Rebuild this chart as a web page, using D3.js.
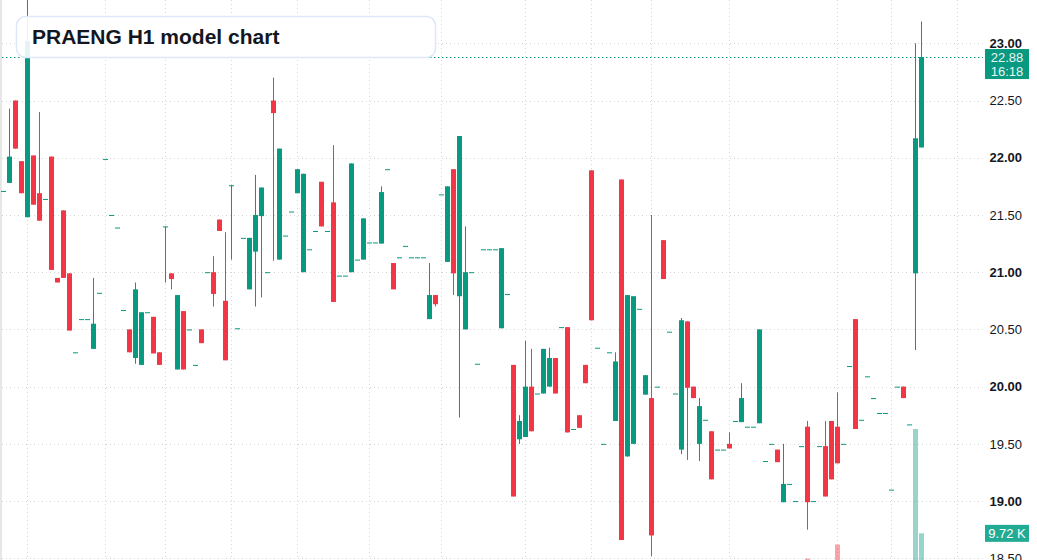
<!DOCTYPE html>
<html>
<head>
<meta charset="utf-8">
<script src="https://cdn.jsdelivr.net/npm/d3@7"></script>
<style>
  html, body { margin: 0; padding: 0; background: #fff; }
  svg { display: block; font-family: "Liberation Sans", Arial, sans-serif; }
</style>
</head>
<body>
<svg id="chart" width="1037" height="560"></svg>
<script>
// hourly bars, oldest first (flat bars = no trades that hour)
const opens = [
  21.71, 21.78, 22.50, 21.97, 21.48, 22.02, 21.69, 21.64, 22.01, 20.95,
  21.54, 20.99, 20.30, 20.59, 20.59, 20.33, 20.82, 21.99, 21.50, 21.39,
  20.67, 20.50, 20.25, 20.19, 20.65, 20.61, 20.30, 21.40, 20.99, 20.15,
  20.66, 20.50, 20.19, 20.50, 21.00, 21.00, 21.46, 20.75, 21.76, 20.51,
  21.30, 20.85, 21.18, 21.49, 21.00, 22.50, 21.11, 21.32, 21.53, 21.69,
  21.00, 21.20, 21.36, 21.79, 21.36, 21.61, 20.97, 20.97, 21.00, 21.11,
  21.11, 21.26, 21.26, 21.25, 21.90, 21.08, 21.13, 21.23, 21.13, 21.13,
  21.13, 20.59, 20.80, 21.68, 21.09, 21.90, 20.79, 20.50, 21.00, 20.20,
  21.20, 21.20, 21.20, 20.51, 20.81, 20.19, 19.54, 19.56, 20.00, 19.94,
  19.94, 20.00, 20.25, 20.52, 20.52, 19.63, 19.75, 20.19, 21.89, 20.34,
  19.50, 20.30, 19.70, 21.81, 19.39, 19.50, 20.68, 19.93, 19.90, 20.00,
  21.28, 20.48, 19.94, 19.45, 20.57, 20.00, 19.50, 19.71, 19.61, 19.45,
  19.45, 19.50, 19.70, 19.69, 19.65, 19.65, 19.68, 19.35, 19.50, 19.45,
  18.99, 19.15, 19.00, 19.48, 19.65, 19.00, 19.48, 19.48, 19.70, 19.65,
  19.50, 20.18, 20.59, 19.71, 20.09, 19.90, 19.77, 19.77, 19.10, 20.00,
  20.00, 19.67, 20.99, 22.09
];
const highs = [
  21.71, 22.43, 22.50, 21.97, 23.45, 22.02, 22.40, 21.64, 22.01, 20.95,
  21.54, 20.99, 20.30, 20.59, 20.59, 20.95, 20.82, 21.99, 21.50, 21.39,
  20.67, 20.50, 20.91, 20.65, 20.65, 20.61, 20.30, 21.40, 20.99, 20.80,
  20.66, 20.50, 20.19, 20.50, 21.00, 21.14, 21.46, 21.35, 21.76, 20.51,
  21.30, 21.30, 21.85, 21.74, 21.00, 22.70, 22.08, 21.32, 21.53, 21.90,
  21.86, 21.20, 21.36, 21.79, 21.36, 22.11, 20.97, 20.97, 21.95, 21.11,
  21.47, 21.26, 21.26, 21.75, 21.90, 21.08, 21.13, 21.23, 21.13, 21.13,
  21.13, 21.08, 20.80, 21.68, 21.75, 21.90, 22.19, 21.40, 21.00, 20.20,
  21.20, 21.20, 21.20, 21.21, 20.81, 20.19, 19.75, 20.40, 20.33, 19.94,
  20.33, 20.34, 20.25, 20.52, 20.52, 19.63, 19.75, 20.19, 21.89, 20.34,
  19.50, 20.30, 20.30, 21.81, 20.80, 20.79, 20.68, 20.10, 21.50, 20.00,
  21.28, 20.48, 19.94, 20.60, 20.57, 20.00, 19.90, 19.71, 19.61, 19.45,
  19.45, 19.60, 19.70, 20.03, 19.65, 19.65, 20.50, 19.35, 19.50, 19.45,
  19.50, 19.15, 19.00, 19.48, 19.70, 19.00, 19.48, 19.70, 19.70, 19.95,
  19.50, 20.18, 20.59, 19.71, 20.09, 19.90, 19.77, 19.77, 19.10, 20.00,
  20.00, 19.67, 23.00, 23.19
];
const lows = [
  21.71, 21.78, 22.08, 21.69, 21.48, 21.59, 21.45, 21.64, 21.02, 20.91,
  20.95, 20.49, 20.30, 20.59, 20.59, 20.33, 20.82, 21.99, 21.50, 21.39,
  20.67, 20.30, 20.20, 20.19, 20.65, 20.29, 20.19, 20.91, 20.85, 20.15,
  20.15, 20.50, 20.19, 20.38, 21.00, 20.70, 21.36, 20.23, 21.11, 20.51,
  21.30, 20.85, 20.70, 20.78, 21.00, 21.10, 21.11, 21.32, 21.53, 21.69,
  21.00, 21.20, 21.36, 21.40, 21.36, 20.74, 20.97, 20.97, 21.00, 21.11,
  21.11, 21.26, 21.26, 21.25, 21.90, 20.85, 21.13, 21.23, 21.13, 21.13,
  21.13, 20.59, 20.70, 21.68, 21.09, 20.80, 19.73, 20.50, 21.00, 20.20,
  21.20, 21.20, 21.20, 20.51, 20.81, 19.04, 19.50, 19.56, 19.61, 19.94,
  19.94, 20.00, 19.94, 20.52, 19.60, 19.63, 19.64, 20.03, 20.58, 20.34,
  19.50, 20.30, 19.70, 18.66, 19.39, 19.50, 20.68, 19.93, 18.52, 20.00,
  20.94, 20.48, 19.94, 19.41, 19.36, 19.90, 19.35, 19.71, 19.19, 19.45,
  19.45, 19.46, 19.70, 19.69, 19.65, 19.65, 19.68, 19.35, 19.50, 19.34,
  18.99, 19.15, 19.00, 19.48, 18.75, 19.00, 19.48, 19.04, 19.19, 19.33,
  19.50, 20.18, 19.63, 19.71, 20.09, 19.90, 19.77, 19.77, 19.10, 20.00,
  19.90, 19.67, 20.32, 22.09
];
const closes = [
  21.71, 22.01, 22.08, 21.69, 23.02, 21.59, 21.45, 21.64, 21.02, 20.91,
  20.95, 20.49, 20.30, 20.59, 20.59, 20.55, 20.82, 21.99, 21.50, 21.39,
  20.67, 20.30, 20.85, 20.65, 20.65, 20.29, 20.19, 21.40, 20.94, 20.80,
  20.15, 20.50, 20.19, 20.38, 21.00, 20.81, 21.36, 20.23, 21.76, 20.51,
  21.30, 21.30, 21.50, 21.74, 21.00, 22.39, 22.08, 21.32, 21.53, 21.90,
  21.86, 21.20, 21.36, 21.40, 21.36, 20.74, 20.97, 20.97, 21.95, 21.11,
  21.47, 21.26, 21.26, 21.70, 21.90, 20.85, 21.13, 21.23, 21.13, 21.13,
  21.13, 20.80, 20.72, 21.68, 21.75, 20.99, 22.19, 21.00, 21.00, 20.20,
  21.20, 21.20, 21.20, 21.21, 20.81, 19.04, 19.70, 20.00, 19.61, 19.94,
  20.33, 20.25, 19.94, 20.52, 19.60, 19.63, 19.64, 20.03, 20.58, 20.34,
  19.50, 20.30, 20.22, 18.66, 20.80, 20.79, 20.68, 20.10, 18.70, 20.00,
  20.94, 20.48, 19.94, 20.58, 19.99, 19.90, 19.83, 19.71, 19.19, 19.45,
  19.45, 19.46, 19.70, 19.90, 19.65, 19.65, 20.50, 19.35, 19.50, 19.34,
  19.15, 19.15, 19.00, 19.48, 18.99, 19.00, 19.48, 19.04, 19.19, 19.33,
  19.50, 20.18, 19.63, 19.71, 20.09, 19.90, 19.77, 19.77, 19.10, 20.00,
  19.90, 19.67, 22.17, 22.88
];
// volume in thousands, only the last few bars reach into view
const volumes = new Array(154).fill(0);
volumes[134] = 1.3;
volumes[139] = 6.0;
volumes[152] = 44.5;
volumes[153] = 9.72;

const priceTicks = [18.5, 19.0, 19.5, 20.0, 20.5, 21.0, 21.5, 22.0, 22.5, 23.0];
const dayStarts = [4, 17, 27, 38, 49, 61, 73, 87, 98, 108, 121, 139, 148, 159];
const titleText = "PRAENG H1 model chart";
const countdown = "16:18";

const upColor = "#089981";
const downColor = "#f23645";

const bars = opens.map((o, i) => ({
  i: i, o: o, h: highs[i], l: lows[i], c: closes[i], v: volumes[i]
}));

const svg = d3.select("#chart");
const W = 1037, H = 560;
const plotRight = 983;
const slots = 163;

const x = d3.scaleBand()
  .domain(d3.range(slots))
  .range([0.5, 0.5 + 6 * slots])
  .padding(0);
const cx = i => x(i) + x.bandwidth() / 2;

const y = d3.scaleLinear()
  .domain([18.5, 23.0])
  .range([558.3, 43.3]);

const yVol = d3.scaleLinear()
  .domain([0, 10])
  .range([562.5, 532.5]);

// left border strip
svg.append("rect").attr("x", 0).attr("y", 0).attr("width", 2).attr("height", H)
  .attr("fill", "#e6e6e6");

// grid
const grid = svg.append("g").attr("stroke", "#d6d6d6").attr("stroke-dasharray", "1 3");
grid.selectAll(".hg").data(priceTicks).enter().append("line")
  .attr("x1", 2).attr("x2", plotRight)
  .attr("y1", d => Math.round(y(d)) + 0.5).attr("y2", d => Math.round(y(d)) + 0.5);
grid.selectAll(".vg").data(dayStarts).enter().append("line")
  .attr("x1", d => Math.floor(cx(d)) + 0.5).attr("x2", d => Math.floor(cx(d)) + 0.5)
  .attr("y1", 0).attr("y2", H);

// volume bars
svg.append("g").selectAll("rect").data(bars.filter(d => d.v > 0)).enter().append("rect")
  .attr("x", d => x(d.i) + 0.5)
  .attr("width", 5)
  .attr("y", d => yVol(d.v))
  .attr("height", d => yVol(0) - yVol(d.v))
  .attr("fill", d => d.c >= d.o ? "rgba(8,153,129,0.42)" : "rgba(242,54,69,0.45)");

// candles
const candles = svg.append("g").selectAll("g").data(bars).enter().append("g");
candles.append("rect")
  .attr("x", d => Math.floor(cx(d.i)))
  .attr("width", 1)
  .attr("y", d => y(d.h))
  .attr("height", d => Math.max(0, y(d.l) - y(d.h)))
  .attr("fill", d => d.c >= d.o ? upColor : downColor);
candles.append("rect")
  .attr("x", d => x(d.i) + 0.5)
  .attr("width", 5)
  .attr("y", d => Math.min(y(d.o), y(d.c)))
  .attr("height", d => Math.max(1, Math.abs(y(d.o) - y(d.c))))
  .attr("fill", d => d.c >= d.o ? upColor : downColor);

// last price line
const last = bars[bars.length - 1];
svg.append("line")
  .attr("x1", 2).attr("x2", plotRight)
  .attr("y1", Math.round(y(last.c)) + 0.5).attr("y2", Math.round(y(last.c)) + 0.5)
  .attr("stroke", upColor).attr("stroke-width", 1).attr("stroke-dasharray", "1.5 2.5");

// title box
svg.append("rect")
  .attr("x", 16.5).attr("y", 16.5).attr("width", 419).attr("height", 41).attr("rx", 9)
  .attr("fill", "rgba(255,255,255,0.9)")
  .attr("stroke", "#dde8f8").attr("stroke-width", 1.5);
svg.append("text")
  .attr("x", 32).attr("y", 44)
  .attr("font-size", 21).attr("font-weight", "bold").attr("fill", "#131722")
  .text(titleText);

// price axis
const axis = svg.append("g")
  .attr("transform", `translate(${plotRight},0)`)
  .call(d3.axisRight(y).tickValues(priceTicks).tickFormat(d3.format(".2f")).tickSize(0));
axis.select(".domain").remove();
axis.selectAll("text")
  .attr("x", 39).attr("text-anchor", "end")
  .attr("font-family", "Liberation Sans, Arial, sans-serif")
  .attr("font-size", 13).attr("fill", "#131722")
  .attr("font-weight", d => d % 1 === 0 ? "bold" : "normal");

// last price label
const ly = y(last.c);
svg.append("rect").attr("x", 985).attr("y", ly - 8).attr("width", 44).attr("height", 30)
  .attr("fill", upColor);
svg.append("text").attr("x", 1007).attr("y", ly + 5).attr("text-anchor", "middle")
  .attr("font-size", 13).attr("fill", "#e9f6f3").text(d3.format(".2f")(last.c));
svg.append("text").attr("x", 1007).attr("y", ly + 19).attr("text-anchor", "middle")
  .attr("font-size", 13).attr("fill", "#e9f6f3").text(countdown);

// last volume label
const vy = yVol(last.v);
svg.append("rect").attr("x", 985).attr("y", vy - 8.5).attr("width", 44).attr("height", 17)
  .attr("fill", "#22ab94");
svg.append("text").attr("x", 1007).attr("y", vy + 4.5).attr("text-anchor", "middle")
  .attr("font-size", 13).attr("fill", "#ffffff").text(d3.format(".2f")(last.v) + " K");
</script>
</body>
</html>
